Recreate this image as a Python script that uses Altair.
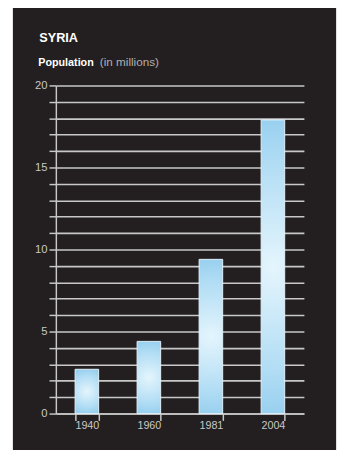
import altair as alt
import pandas as pd

years = ["1940", "1960", "1981", "2004"]
population = [2.7, 4.4, 9.4, 17.9]
y_ticks = list(range(0, 21))

title_text = ["SYRIA"]
subtitle_bold = ["Population"]
subtitle_normal = ["(in millions)"]

df = pd.DataFrame({"year": years, "pop": population})

BG = "#231f20"
GRID = "#c8c8c8"
LABEL = "#c8c8c8"

gradient = alt.RadialGradient(
    gradient="radial",
    x1=0.5, y1=0.5, r1=0.0,
    x2=0.5, y2=0.5, r2=0.6,
    stops=[
        alt.GradientStop(offset=0, color="#e4f5fd"),
        alt.GradientStop(offset=0.6, color="#b0dcf4"),
        alt.GradientStop(offset=1, color="#88c8ec"),
    ],
)

one = pd.DataFrame({"a": [0]})

# white page strips left and right of the dark panel
left_strip = alt.Chart(one).mark_rect(color="white").encode(
    x=alt.value(-50), x2=alt.value(-44), y=alt.value(-80), y2=alt.value(420)
)
right_strip = alt.Chart(one).mark_rect(color="white").encode(
    x=alt.value(287), x2=alt.value(300), y=alt.value(-80), y2=alt.value(420)
)

bars = alt.Chart(df).mark_bar(fill=gradient, stroke="#e2f3fb", strokeWidth=1).encode(
    x=alt.X(
        "year:N",
        sort=years,
        scale=alt.Scale(paddingInner=0.62, paddingOuter=0.31),
        axis=alt.Axis(
            title=None,
            labelAngle=0,
            labelColor=LABEL,
            labelFont="Liberation Sans",
            labelFontSize=11,
            tickBand="extent",
            tickSize=7,
            tickColor=GRID,
            tickWidth=1.5,
            domainColor=GRID,
            domainWidth=1.5,
            labelPadding=-1,
            grid=False,
        ),
    ),
    y=alt.Y(
        "pop:Q",
        scale=alt.Scale(domain=[0, 20], nice=False),
        axis=alt.Axis(
            title=None,
            values=y_ticks,
            labelExpr="datum.value % 5 === 0 ? datum.label : ''",
            labelColor=LABEL,
            labelFont="Liberation Sans",
            labelFontSize=11.5,
            tickSize=7,
            tickColor=GRID,
            tickWidth=1.5,
            domainColor=GRID,
            domainWidth=1.5,
            labelPadding=2,
            grid=True,
            gridColor=GRID,
            gridWidth=1.6,
            gridOpacity=1,
        ),
    ),
)

t1 = alt.Chart(pd.DataFrame({"t": title_text})).mark_text(
    align="left", baseline="alphabetic", font="Liberation Sans", fontSize=13,
    fontWeight="bold", color="white"
).encode(x=alt.value(-17), y=alt.value(-44), text="t:N")

t2 = alt.Chart(pd.DataFrame({"t": subtitle_bold})).mark_text(
    align="left", baseline="alphabetic", font="Liberation Sans", fontSize=11,
    fontWeight="bold", color="white"
).encode(x=alt.value(-18), y=alt.value(-20), text="t:N")

t3 = alt.Chart(pd.DataFrame({"t": subtitle_normal})).mark_text(
    align="left", baseline="alphabetic", font="Liberation Sans", fontSize=12,
    color="#b0b0b0"
).encode(x=alt.value(45), y=alt.value(-20), text="t:N")

chart = alt.layer(left_strip, right_strip, bars, t1, t2, t3).properties(
    width=254,
    height=336,
    background=BG,
    padding={"left": 49, "top": 74, "right": 39, "bottom": 32},
    autosize=alt.AutoSizeParams(type="none"),
).configure_view(stroke=None)

chart.save("out.html", embed_options={"renderer": "svg", "actions": False})
